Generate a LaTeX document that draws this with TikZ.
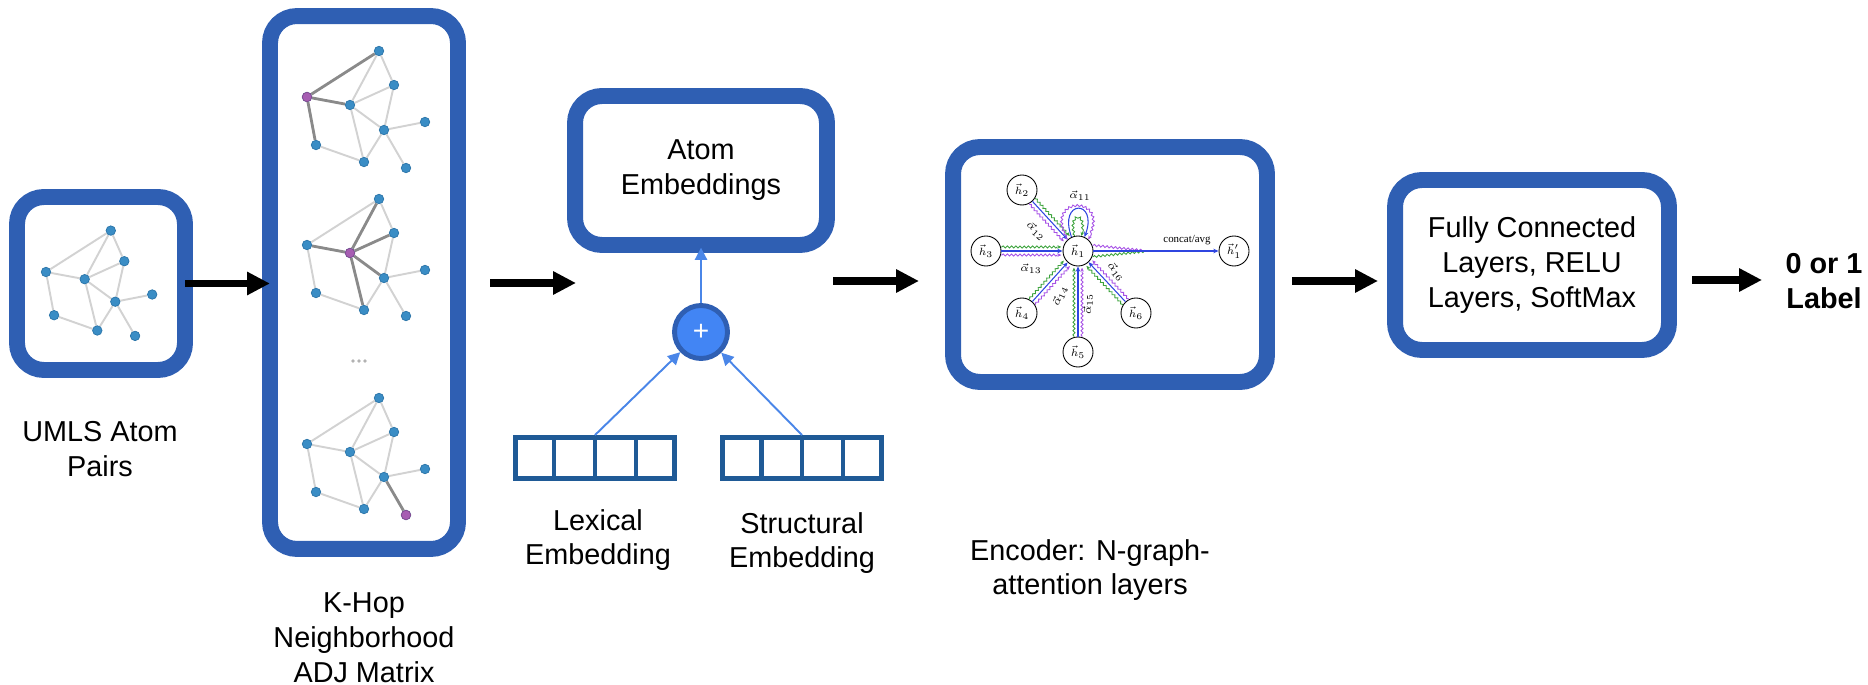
\documentclass[tikz,border=0pt]{standalone}
\usepackage[no-math]{fontspec}
\setsansfont{Liberation Sans}
\newfontfamily\timesfont{Liberation Serif}
\usetikzlibrary{arrows.meta,calc,decorations.pathmorphing,backgrounds}
\definecolor{boxblue}{HTML}{2F5FB3}
\definecolor{vecblue}{HTML}{1F5A96}
\definecolor{plusfill}{HTML}{4285F4}
\definecolor{arrblue}{HTML}{4A86E8}
\definecolor{nodeblue}{HTML}{3A8DC5}
\definecolor{nodeedge}{HTML}{2A74A8}
\definecolor{nodepurple}{HTML}{A65DB2}
\definecolor{edgelight}{HTML}{D2D2D2}
\definecolor{edgedark}{HTML}{8A8A8A}
\definecolor{gatblue}{HTML}{2F45E0}
\definecolor{gatgreen}{HTML}{3DA33D}
\definecolor{gatpurple}{HTML}{A752E6}
\tikzset{
  lbl/.style={font=\sffamily\fontsize{16.4}{19.85}\selectfont, align=center, text=black},
  bigbox/.style={draw=boxblue, line width=9.07pt, rounded corners=15.3pt, inner sep=0pt},
  bigarr/.style={line width=4.5pt, -{Triangle[length=13pt,width=12.5pt]}},
  smallarr/.style={draw=arrblue, line width=1.1pt, -{Triangle[length=7pt,width=7pt]}},
  vecbox/.style={draw=vecblue, line width=2.8pt, minimum width=3.18cm, minimum height=0.82cm, inner sep=0pt},
  vecdiv/.style={draw=vecblue, line width=2.8pt},
  gn/.style={circle, fill=nodeblue, draw=nodeedge, line width=0.4pt, minimum size=0.19cm, inner sep=0pt},
  gp/.style={gn, fill=nodepurple, draw=nodepurple!80!black},
  ge/.style={draw=edgelight, line width=1.1pt},
  gd/.style={draw=edgedark, line width=1.6pt},
  dotn/.style={circle, fill=gray!60, minimum size=2.2pt, inner sep=0pt},
  hn/.style={draw, circle, minimum size=0.6cm, inner sep=0pt, line width=0.5pt, font=\fontsize{6.5}{7}\selectfont},
  gl/.style={inner sep=0pt, font=\fontsize{6}{7}\selectfont},
  gwave/.style={decorate, decoration={snake, amplitude=0.6pt, segment length=2.4pt, pre length=0.5pt, post length=1.5pt}},
  gb/.style={draw=gatblue, line width=0.6pt, -{Stealth[length=3pt,width=2.6pt]}},
  gg/.style={draw=gatgreen, line width=0.5pt, gwave, -{Stealth[length=2.2pt,width=2pt]}},
  gpu/.style={draw=gatpurple, line width=0.5pt, gwave, -{Stealth[length=2.2pt,width=2pt]}},
}
\newcommand\atomgraph[3]{%
\begin{scope}[shift={#1}, scale=#2]
\node[gn] (#3a) at (72,46) {};
\node[gn] (#3b) at (87,12) {};
\node[gn] (#3c) at (0,0) {};
\node[gn] (#3d) at (43,-8) {};
\node[gn] (#3e) at (118,-25) {};
\node[gn] (#3f) at (77,-33) {};
\node[gn] (#3g) at (9,-48) {};
\node[gn] (#3h) at (57,-65) {};
\node[gn] (#3i) at (99,-71) {};
\begin{scope}[on background layer]
\foreach \u/\v in {a/c,a/d,a/b,b/d,b/f,c/d,c/g,d/f,d/h,f/e,f/h,f/i,g/h}
  \draw[ge] (#3\u) -- (#3\v);
\end{scope}
\end{scope}}
\newcommand\gatlink[2]{%
 \draw[gb] (#1) -- (#2);
 \draw[gg] ($($(#1)!8.5pt!(#2)$)!2.3pt!90:(#2)$) -- ($($(#2)!9.5pt!(#1)$)!2.3pt!-90:(#1)$);
 \draw[gpu] ($($(#1)!8.5pt!(#2)$)!2.3pt!-90:(#2)$) -- ($($(#2)!9.5pt!(#1)$)!2.3pt!90:(#1)$);
}
\begin{document}
\begin{tikzpicture}[x=0.02cm,y=0.02cm]
\useasboundingbox (0,0) rectangle (1868,-685);

% boxes
\node[bigbox, minimum width=3.36cm, minimum height=3.46cm] (umls) at (101,-283.5) {};
\node[bigbox, minimum width=3.76cm, minimum height=10.66cm] (khop) at (364,-282.5) {};
\node[bigbox, lbl, minimum width=5.04cm, minimum height=2.98cm] (atom) at (701,-170.5) {Atom\\Embeddings};
\node[bigbox, minimum width=6.28cm, minimum height=4.70cm] (enc) at (1110,-264.5) {};
\node[bigbox, lbl, minimum width=5.48cm, minimum height=3.40cm] (fc) at (1532,-265) {Fully Connected\\Layers, RELU\\Layers, SoftMax};

% labels
\node[lbl] (umlslbl) at (100,-449) {UMLS Atom\\Pairs};
\node[lbl] (khoplbl) at (364,-638) {K-Hop\\Neighborhood\\ADJ Matrix};
\node[lbl] (lexlbl) at (598,-540) {Lexical\\Embedding};
\node[lbl] (strlbl) at (802,-543) {Structural\\Embedding};
\node[lbl] (enclbl) at (1090,-570) {Encoder: N-graph-\\attention layers};
\node[lbl, font=\sffamily\bfseries\fontsize{16.4}{19.85}\selectfont] (outlbl) at (1824,-281) {0 or 1\\Label};

% graphs
\atomgraph{(46,-272)}{0.9}{u}
\atomgraph{(307,-97)}{1}{ka}
\atomgraph{(307,-245)}{1}{kb}
\atomgraph{(307,-444)}{1}{kc}
\begin{scope}[on background layer]
\draw[gd] (kac) -- (kaa); \draw[gd] (kac) -- (kad); \draw[gd] (kac) -- (kag);
\draw[gd] (kbd) -- (kba); \draw[gd] (kbd) -- (kbb); \draw[gd] (kbd) -- (kbc);
\draw[gd] (kbd) -- (kbf); \draw[gd] (kbd) -- (kbh);
\draw[gd] (kcf) -- (kci);
\end{scope}
\node[gp] (kacp) at (kac) {};
\node[gp] (kbdp) at (kbd) {};
\node[gp] (kcip) at (kci) {};
\node[dotn] (dt1) at (353,-361) {};
\node[dotn] (dt2) at (359,-361) {};
\node[dotn] (dt3) at (365,-361) {};

% main arrows
\draw[bigarr, shorten <=-4.5pt, shorten >=-4.5pt] (umls.east) -- (umls.east -| khop.west);
\coordinate (a2s) at (490,-283); \coordinate (a2e) at (576,-283);
\coordinate (a3s) at (833,-281); \coordinate (a3e) at (919,-281);
\coordinate (a4s) at (1292,-281); \coordinate (a4e) at (1378,-281);
\coordinate (a5s) at (1692,-280); \coordinate (a5e) at (1762,-280);
\draw[bigarr] (a2s) -- (a2e);
\draw[bigarr] (a3s) -- (a3e);
\draw[bigarr] (a4s) -- (a4e);
\draw[bigarr] (a5s) -- (a5e);

% embeddings
\node[vecbox] (lex) at (595,-458) {};
\node[vecbox] (str) at (802,-458) {};
\foreach \v in {lex,str}{
  \foreach \f in {0.25,0.5,0.75}
    \draw[vecdiv] ($(\v.north west)!\f!(\v.north east)$) -- ($(\v.south west)!\f!(\v.south east)$);
}
\node[draw=boxblue, line width=2.8pt, fill=plusfill, circle, minimum size=1.06cm, inner sep=0pt,
      text=white, font=\sffamily\fontsize{16}{16}\selectfont] (plus) at (701,-332) {+};
\draw[smallarr, shorten >=-3pt] (plus) -- (atom.south);
\draw[smallarr] (lex.north) -- (plus);
\draw[smallarr] (str.north) -- (plus);

% GAT diagram
\node[hn] (h1) at (1078,-251) {$\vec h_1$};
\node[hn] (h2) at (1022,-190) {$\vec h_2$};
\node[hn] (h3) at (986,-251) {$\vec h_3$};
\node[hn] (h4) at (1022,-313) {$\vec h_4$};
\node[hn] (h5) at (1078,-352) {$\vec h_5$};
\node[hn] (h6) at (1136,-313) {$\vec h_6$};
\node[hn] (h1p) at (1234,-251) {$\vec h_1'$};
\gatlink{h2}{h1}
\gatlink{h3}{h1}
\gatlink{h4}{h1}
\gatlink{h5}{h1}
\gatlink{h6}{h1}
\draw[gb] (h1.115) .. controls +(110:23pt) and +(70:23pt) .. (h1.65);
\draw[gg] (h1.103) .. controls +(105:14pt) and +(75:14pt) .. (h1.77);
\draw[gpu] (h1.132) .. controls +(120:29pt) and +(60:29pt) .. (h1.48);
\coordinate (mrg) at ($(h1)!0.45!(h1p)$);
\draw[gpu, -] (h1.22) -- (mrg);
\draw[gg, -] (h1.-22) -- (mrg);
\draw[gb, line width=0.9pt] (h1) -- (h1p);
\node[gl] (a11) at (1080,-196) {$\vec\alpha_{11}$};
\node[gl, rotate=-42] (a12) at (1036,-231) {$\vec\alpha_{12}$};
\node[gl] (a13) at (1031,-269) {$\vec\alpha_{13}$};
\node[gl, rotate=65] (a14) at (1060,-296) {$\vec\alpha_{14}$};
\node[gl, rotate=90] (a15) at (1088,-304) {$\vec\alpha_{15}$};
\node[gl, rotate=-52] (a16) at (1116,-272) {$\vec\alpha_{16}$};
\node[gl, font=\timesfont\fontsize{6.2}{7}\selectfont] (cat) at (1187,-240) {concat/avg};
\end{tikzpicture}
\end{document}
